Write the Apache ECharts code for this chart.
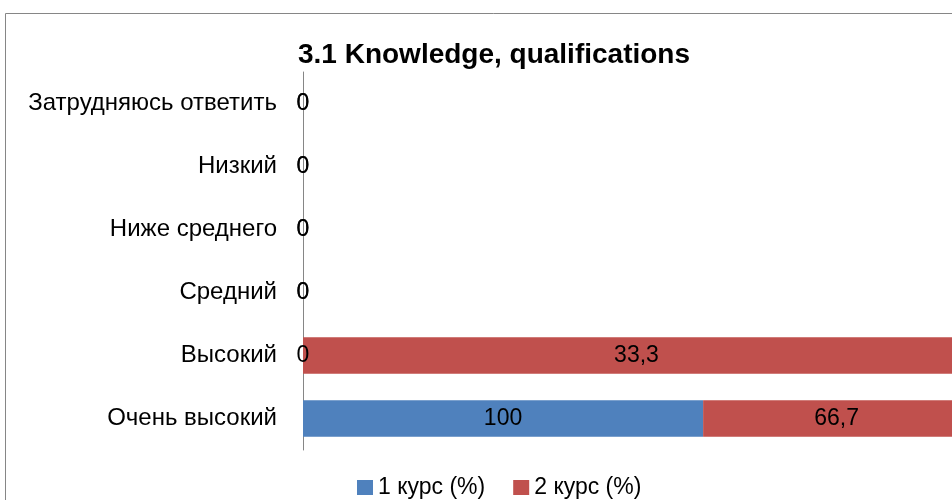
<!DOCTYPE html>
<html>
<head>
<meta charset="utf-8">
<script src="https://cdn.jsdelivr.net/npm/echarts@6/dist/echarts.min.js"></script>
<style>
  html, body { margin: 0; padding: 0; background: #fff; overflow: hidden; }
  /* the original chart is wider than the cropped picture */
  #chart { width: 980px; height: 500px; }
</style>
</head>
<body>
<div id="chart"></div>
<script>
// categories bottom -> top, as excel draws them
var categories = ['Очень высокий', 'Высокий', 'Средний', 'Ниже среднего', 'Низкий', 'Затрудняюсь ответить'];
var course1 = [100, 0, 0, 0, 0, 0];
var course2 = [66.7, 33.3, 0, 0, 0, 0];
var seriesNames = ['1 курс (%)', '2 курс (%)'];

// 100% stacked: share of each row
function share(vals, other) {
    return vals.map(function (v, i) {
        var total = v + other[i];
        return total ? v / total * 100 : 0;
    });
}

function fmt(arr) {
    return function (p) {
        return String(arr[p.dataIndex]).replace('.', ',');
    };
}

var font = 'Liberation Sans';
var chart = echarts.init(document.getElementById('chart'));
chart.setOption({
    animation: false,
    graphic: [{
        type: 'rect',
        shape: { x: 5.5, y: 13.5, width: 1000, height: 600 },
        style: { fill: 'none', stroke: '#868686', lineWidth: 1 },
        silent: true
    }],
    title: {
        text: '3.1 Knowledge, qualifications',
        left: 489,
        top: 36,
        textAlign: 'center',
        textStyle: { fontFamily: font, fontSize: 28, fontWeight: 'bold', color: '#000' }
    },
    legend: {
        data: seriesNames,
        left: 352,
        top: 471,
        itemWidth: 16,
        itemHeight: 15,
        itemGap: 28,
        icon: 'rect',
        textStyle: { fontFamily: font, fontSize: 23, color: '#000' }
    },
    grid: { left: 303, right: 10, top: 72, bottom: 50 },
    xAxis: {
        type: 'value',
        min: 0,
        max: 100,
        show: false
    },
    yAxis: {
        type: 'category',
        data: categories,
        axisLine: { lineStyle: { color: '#868686', width: 1 } },
        axisTick: { show: false },
        axisLabel: { margin: 26, color: '#000', fontFamily: font, fontSize: 24 }
    },
    series: [{
        name: seriesNames[0],
        type: 'bar',
        stack: 'all',
        barCategoryGap: '42%',
        data: share(course1, course2),
        itemStyle: { color: '#4F81BD' },
        label: { show: true, position: 'inside', color: '#000', fontFamily: font, fontSize: 23, formatter: fmt(course1) }
    }, {
        name: seriesNames[1],
        type: 'bar',
        stack: 'all',
        data: share(course2, course1),
        itemStyle: { color: '#C0504D' },
        label: { show: true, position: 'inside', color: '#000', fontFamily: font, fontSize: 23, formatter: fmt(course2) }
    }]
});
</script>
</body>
</html>
